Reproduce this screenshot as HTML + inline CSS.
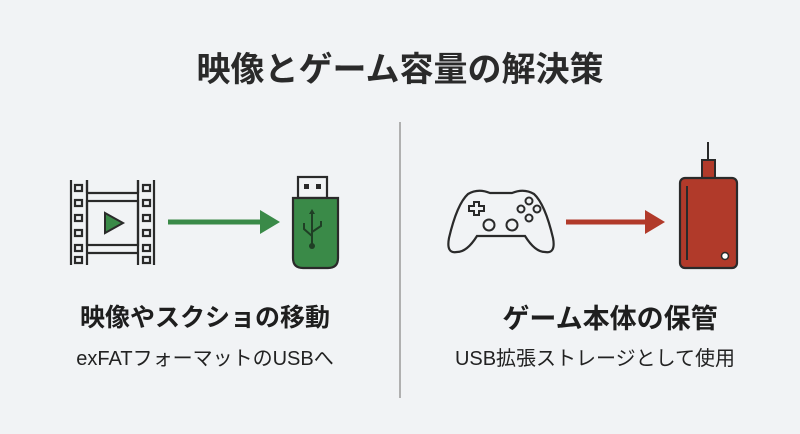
<!DOCTYPE html>
<html><head><meta charset="utf-8"><style>
html,body{margin:0;padding:0;width:800px;height:434px;background:#f1f3f5;overflow:hidden;font-family:"Liberation Sans","Noto Sans CJK JP",sans-serif;color:#222}
.t{position:absolute;left:0;width:800px;text-align:center;top:42px;font-size:34px;font-weight:bold;color:#2a2a2a}
.h{position:absolute;width:340px;text-align:center;font-size:25px;font-weight:bold;top:298px;color:#1e1e1e}
.s{position:absolute;width:340px;text-align:center;font-size:20px;top:342px;color:#222}
</style></head><body>
<div class="t">映像とゲーム容量の解決策</div>
<svg width="800" height="434" style="position:absolute;left:0;top:0">
<line x1="400" y1="122" x2="400" y2="398" stroke="#9a9a9a" stroke-width="1.5"/>
<g fill="none" stroke="#2a2a2a" stroke-width="2.2">
<line x1="71" y1="180" x2="71" y2="265"/><line x1="154" y1="180" x2="154" y2="265"/>
<line x1="87" y1="180" x2="87" y2="265"/><line x1="138" y1="180" x2="138" y2="265"/>
<path d="M87 193 H138 M87 253 H138 M87 180 V193 M138 180 V193"/>
<rect x="87" y="201" width="51" height="44"/>
<rect x="75" y="185" width="7" height="6"/><rect x="75" y="200" width="7" height="6"/><rect x="75" y="215" width="7" height="6"/><rect x="75" y="230" width="7" height="6"/><rect x="75" y="245" width="7" height="6"/><rect x="75" y="257" width="7" height="6"/>
<rect x="143" y="185" width="7" height="6"/><rect x="143" y="200" width="7" height="6"/><rect x="143" y="215" width="7" height="6"/><rect x="143" y="230" width="7" height="6"/><rect x="143" y="245" width="7" height="6"/><rect x="143" y="257" width="7" height="6"/>
</g>
<path d="M105 213 L123 223 L105 233 Z" fill="#3a8a48" stroke="#2a2a2a" stroke-width="2"/>
<line x1="168" y1="222" x2="262" y2="222" stroke="#3a8a48" stroke-width="5"/>
<path d="M260 210 L280 222 L260 234 Z" fill="#3a8a48"/>
<rect x="298" y="177" width="29" height="21" fill="#f1f3f5" stroke="#2a2a2a" stroke-width="2.2"/>
<rect x="304" y="184" width="5" height="5" fill="#2a2a2a"/><rect x="316" y="184" width="5" height="5" fill="#2a2a2a"/>
<path d="M293 198 H338 V258 Q338 268 328 268 H303 Q293 268 293 258 Z" fill="#3a8a48" stroke="#2a2a2a" stroke-width="2.2"/>
<g stroke="#1f3f25" stroke-width="2" fill="none"><path d="M312 212 V246 M312 236 L304 229 V223 M312 232 L321 226 V221"/></g>
<circle cx="312" cy="246" r="3" fill="#1f3f25"/><path d="M309 214 L312 209 L315 214Z" fill="#1f3f25"/>
<path d="M468 194 Q478 188 490 193 H512 Q524 188 534 194 Q545 204 553 238 Q556 254 545 252 Q535 252 525 236 H477 Q467 252 457 252 Q446 254 449 238 Q457 204 468 194 Z" fill="none" stroke="#2a2a2a" stroke-width="2.2"/>
<path d="M469 206 h5 v-4 h5 v4 h5 v5 h-5 v4 h-5 v-4 h-5 Z" fill="none" stroke="#2a2a2a" stroke-width="2"/>
<g fill="none" stroke="#2a2a2a" stroke-width="2"><circle cx="489" cy="225" r="5.5"/><circle cx="512" cy="225" r="5.5"/>
<circle cx="529" cy="201" r="3.5"/><circle cx="521" cy="209" r="3.5"/><circle cx="537" cy="209" r="3.5"/><circle cx="529" cy="218" r="3.5"/></g>
<line x1="566" y1="222" x2="647" y2="222" stroke="#b13a2a" stroke-width="5"/>
<path d="M645 210 L665 222 L645 234 Z" fill="#b13a2a"/>
<line x1="708" y1="142" x2="708" y2="160" stroke="#2a2a2a" stroke-width="2"/>
<rect x="702" y="160" width="13" height="18" fill="#b13a2a" stroke="#2a2a2a" stroke-width="2"/>
<rect x="680" y="178" width="57" height="90" rx="5" fill="#b13a2a" stroke="#2a2a2a" stroke-width="2.2"/>
<line x1="687" y1="186" x2="687" y2="260" stroke="#2a2a2a" stroke-width="2"/>
<circle cx="725" cy="256" r="3.5" fill="#fff" stroke="#2a2a2a" stroke-width="1.5"/>
</svg>
<div class="h" style="left:35px">映像やスクショの移動</div>
<div class="s" style="left:35px">exFATフォーマットのUSBへ</div>
<div class="h" style="left:440px;font-size:27px;top:297px">ゲーム本体の保管</div>
<div class="s" style="left:425px">USB拡張ストレージとして使用</div>
</body></html>
